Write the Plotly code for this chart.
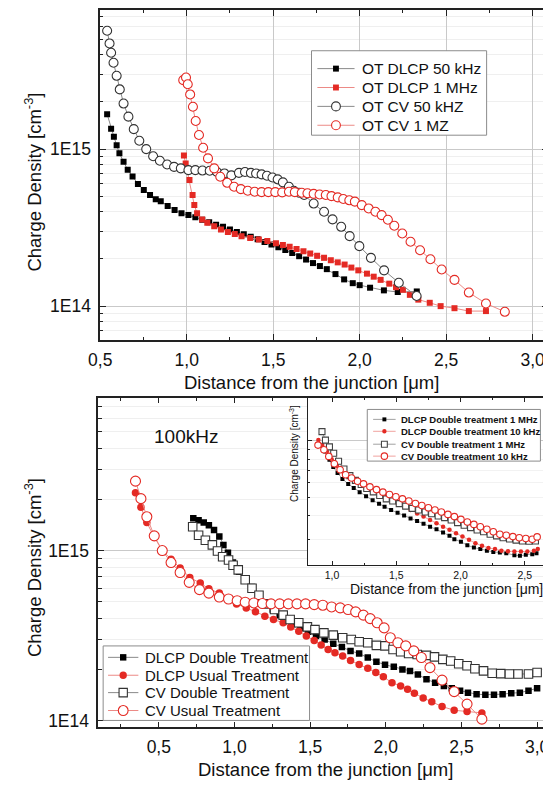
import plotly.graph_objects as go

FONT = "Liberation Sans, Arial, sans-serif"

# ---------------- Top panel data ----------------
top_dlcp50_x = [0.540, 0.563, 0.579, 0.595, 0.611, 0.635, 0.659, 0.687, 0.718, 0.752, 0.788, 0.821,
                0.85, 0.89, 0.93, 0.97, 1.01, 1.05, 1.09, 1.13, 1.17, 1.21, 1.25, 1.29, 1.33, 1.37,
                1.41, 1.45, 1.49, 1.53, 1.57, 1.61, 1.65, 1.69, 1.73, 1.77, 1.81, 1.86, 1.91, 1.96,
                2.00, 2.06, 2.14, 2.22, 2.33]
top_dlcp50_y = [1.67e15, 1.35e15, 1.20e15, 1.06e15, 9.4e14, 8.3e14, 7.4e14, 6.7e14, 6.0e14, 5.5e14, 5.1e14, 4.8e14,
                4.65e14, 4.35e14, 4.1e14, 3.9e14, 3.8e14, 3.68e14, 3.55e14, 3.42e14, 3.3e14, 3.2e14, 3.08e14, 2.97e14,
                2.87e14, 2.77e14, 2.67e14, 2.56e14, 2.47e14, 2.37e14, 2.28e14, 2.18e14, 2.08e14, 1.98e14, 1.88e14,
                1.8e14, 1.72e14, 1.6e14, 1.48e14, 1.4e14, 1.36e14, 1.31e14, 1.26e14, 1.23e14, 1.24e14]

top_dlcp1m_x = [0.984, 0.994, 1.016, 1.034, 1.044, 1.060, 1.089, 1.119, 1.159, 1.198, 1.238, 1.278, 1.317,
                1.367, 1.417, 1.466, 1.516, 1.556, 1.595, 1.635, 1.675, 1.714, 1.754, 1.794, 1.833, 1.873,
                1.913, 1.952, 1.992, 2.042, 2.081, 2.121, 2.171, 2.210, 2.250, 2.290, 2.339, 2.405, 2.468,
                2.548, 2.631, 2.730]
top_dlcp1m_y = [9.1e14, 8.1e14, 6.35e14, 5.1e14, 4.4e14, 3.9e14, 3.56e14, 3.4e14, 3.23e14, 3.08e14, 2.97e14,
                2.88e14, 2.79e14, 2.72e14, 2.66e14, 2.6e14, 2.51e14, 2.45e14, 2.39e14, 2.31e14, 2.24e14, 2.16e14,
                2.09e14, 2.03e14, 1.96e14, 1.90e14, 1.84e14, 1.76e14, 1.69e14, 1.61e14, 1.54e14, 1.47e14, 1.39e14,
                1.32e14, 1.27e14, 1.18e14, 1.10e14, 1.05e14, 1.0e14, 9.7e13, 9.3e13, 9.3e13]

top_cv50_x = [0.540, 0.554, 0.563, 0.577, 0.595, 0.613, 0.635, 0.663, 0.694, 0.726, 0.766, 0.806, 0.845,
              0.887, 0.927, 0.966, 1.010, 1.050, 1.091, 1.133, 1.175, 1.218, 1.258, 1.302, 1.337, 1.371,
              1.401, 1.433, 1.464, 1.496, 1.526, 1.556, 1.591, 1.619, 1.649, 1.679, 1.734, 1.794, 1.843,
              1.893, 1.942, 1.998, 2.065, 2.141, 2.226, 2.329]
top_cv50_y = [5.67e15, 4.71e15, 4.11e15, 3.55e15, 2.93e15, 2.40e15, 1.95e15, 1.61e15, 1.34e15, 1.13e15,
              1.0e15, 9.0e14, 8.43e14, 7.98e14, 7.71e14, 7.54e14, 7.35e14, 7.35e14, 7.3e14, 7.28e14, 7.15e14,
              7.0e14, 6.8e14, 7.06e14, 7.15e14, 7.06e14, 7.0e14, 6.9e14, 6.77e14, 6.6e14, 6.42e14, 6.14e14,
              5.76e14, 5.43e14, 5.27e14, 5.1e14, 4.5e14, 3.99e14, 3.57e14, 3.2e14, 2.79e14, 2.41e14, 2.03e14,
              1.69e14, 1.41e14, 1.16e14]

top_cv1m_x = [0.980, 0.996, 1.006, 1.020, 1.036, 1.052, 1.071, 1.095, 1.123, 1.159, 1.194, 1.234, 1.274,
              1.313, 1.353, 1.393, 1.433, 1.472, 1.512, 1.552, 1.591, 1.625, 1.665, 1.698, 1.734, 1.768,
              1.804, 1.837, 1.873, 1.905, 1.940, 1.972, 2.012, 2.052, 2.091, 2.127, 2.163, 2.200, 2.246,
              2.294, 2.349, 2.409, 2.474, 2.548, 2.631, 2.730, 2.839]
top_cv1m_y = [2.75e15, 2.86e15, 2.59e15, 2.23e15, 1.86e15, 1.51e15, 1.23e15, 1.02e15, 8.73e14, 7.54e14,
              6.67e14, 6.1e14, 5.76e14, 5.56e14, 5.43e14, 5.35e14, 5.32e14, 5.32e14, 5.32e14, 5.3e14, 5.35e14,
              5.32e14, 5.27e14, 5.23e14, 5.19e14, 5.14e14, 5.1e14, 5.02e14, 4.93e14, 4.81e14, 4.72e14, 4.63e14,
              4.4e14, 4.19e14, 3.99e14, 3.8e14, 3.55e14, 3.25e14, 2.9e14, 2.57e14, 2.27e14, 1.99e14, 1.71e14,
              1.47e14, 1.22e14, 1.04e14, 9.2e13]

top_names = ["OT DLCP 50 kHz", "OT DLCP 1 MHz", "OT CV 50 kHZ", "OT CV 1 MZ"]

# ---------------- Bottom panel data (100kHz) ----------------
bot_dlcp_double_x = [0.728, 0.763, 0.797, 0.831, 0.865, 0.900, 0.927, 0.957, 0.990, 1.030, 1.071, 1.116,
                     1.162, 1.208, 1.253, 1.299, 1.345, 1.390, 1.436, 1.486, 1.539, 1.596, 1.653, 1.710,
                     1.767, 1.824, 1.881, 1.938, 1.995, 2.053, 2.110, 2.160, 2.212, 2.269, 2.326, 2.384,
                     2.436, 2.491, 2.543, 2.600, 2.658, 2.715, 2.772, 2.829, 2.886, 2.943, 3.0]
bot_dlcp_double_y = [1.55e15, 1.51e15, 1.46e15, 1.41e15, 1.32e15, 1.21e15, 1.08e15, 9.7e14, 8.5e14, 7.5e14,
                     6.7e14, 6.1e14, 5.5e14, 4.86e14, 4.5e14, 4.17e14, 3.93e14, 3.7e14, 3.51e14, 3.33e14,
                     3.14e14, 3.0e14, 2.83e14, 2.71e14, 2.57e14, 2.48e14, 2.35e14, 2.22e14, 2.13e14, 2.07e14,
                     2.0e14, 1.96e14, 1.87e14, 1.75e14, 1.67e14, 1.6e14, 1.55e14, 1.5e14, 1.46e14, 1.43e14,
                     1.42e14, 1.42e14, 1.43e14, 1.45e14, 1.46e14, 1.5e14, 1.55e14]

bot_dlcp_usual_x = [0.346, 0.382, 0.421, 0.470, 0.523, 0.581, 0.641, 0.705, 0.774, 0.831, 0.900, 0.960,
                    1.014, 1.078, 1.139, 1.201, 1.258, 1.322, 1.372, 1.425, 1.475, 1.527, 1.573, 1.619,
                    1.664, 1.715, 1.767, 1.824, 1.881, 1.934, 1.984, 2.041, 2.098, 2.144, 2.189, 2.247,
                    2.304, 2.372, 2.452, 2.537, 2.635]
bot_dlcp_usual_y = [2.19e15, 1.8e15, 1.46e15, 1.2e15, 1.0e15, 8.9e14, 7.9e14, 6.95e14, 6.44e14, 5.96e14,
                    5.62e14, 5.2e14, 4.85e14, 4.6e14, 4.36e14, 4.11e14, 3.93e14, 3.76e14, 3.55e14, 3.35e14,
                    3.14e14, 2.96e14, 2.78e14, 2.62e14, 2.51e14, 2.4e14, 2.26e14, 2.14e14, 2.03e14, 1.92e14,
                    1.81e14, 1.67e14, 1.6e14, 1.53e14, 1.45e14, 1.36e14, 1.29e14, 1.21e14, 1.15e14, 1.13e14,
                    1.11e14]

bot_cv_double_x = [0.724, 0.763, 0.808, 0.854, 0.888, 0.922, 0.961, 0.991, 1.025, 1.071, 1.116, 1.162,
                   1.212, 1.265, 1.322, 1.368, 1.425, 1.482, 1.532, 1.591, 1.653, 1.715, 1.772, 1.824,
                   1.881, 1.938, 1.995, 2.048, 2.098, 2.151, 2.208, 2.269, 2.322, 2.377, 2.429, 2.482,
                   2.537, 2.589, 2.646, 2.703, 2.760, 2.817, 2.874, 2.943, 3.0]
bot_cv_double_y = [1.38e15, 1.23e15, 1.15e15, 1.08e15, 9.95e14, 9.2e14, 8.8e14, 8.2e14, 7.7e14, 6.73e14,
                   6.0e14, 5.46e14, 4.86e14, 4.5e14, 4.17e14, 3.93e14, 3.76e14, 3.56e14, 3.43e14, 3.28e14,
                   3.18e14, 3.07e14, 3.0e14, 2.91e14, 2.87e14, 2.77e14, 2.75e14, 2.62e14, 2.54e14, 2.48e14,
                   2.45e14, 2.42e14, 2.37e14, 2.29e14, 2.24e14, 2.16e14, 2.1e14, 2.02e14, 1.96e14, 1.9e14,
                   1.89e14, 1.88e14, 1.88e14, 1.88e14, 1.92e14]

bot_cv_usual_x = [0.346, 0.382, 0.421, 0.470, 0.523, 0.581, 0.641, 0.701, 0.769, 0.831, 0.900, 0.961,
                  1.018, 1.071, 1.128, 1.185, 1.242, 1.299, 1.356, 1.413, 1.470, 1.527, 1.584, 1.642,
                  1.699, 1.751, 1.801, 1.852, 1.897, 1.943, 1.989, 2.030, 2.080, 2.132, 2.185, 2.235,
                  2.292, 2.372, 2.452, 2.537, 2.635]
bot_cv_usual_y = [2.56e15, 2.02e15, 1.58e15, 1.22e15, 1.0e15, 8.5e14, 7.43e14, 6.5e14, 5.89e14, 5.62e14,
                  5.33e14, 5.19e14, 5.07e14, 4.97e14, 4.92e14, 4.88e14, 4.86e14, 4.86e14, 4.86e14, 4.86e14,
                  4.86e14, 4.81e14, 4.77e14, 4.66e14, 4.6e14, 4.5e14, 4.36e14, 4.17e14, 3.98e14, 3.76e14,
                  3.51e14, 3.07e14, 2.87e14, 2.75e14, 2.57e14, 2.35e14, 2.05e14, 1.73e14, 1.48e14, 1.25e14,
                  1.02e14]

bot_names = ["DLCP Double Treatment", "DLCP Usual Treatment", "CV Double Treatment", "CV Usual Treatment"]

# ---------------- Inset data ----------------
ins_dlcp1m_x = [0.947, 0.980, 1.010, 1.043, 1.081, 1.126, 1.169, 1.215, 1.265, 1.316, 1.366, 1.409, 1.460,
                1.510, 1.561, 1.611, 1.662, 1.712, 1.763, 1.813, 1.864, 1.914, 1.952, 2.003, 2.053, 2.104,
                2.154, 2.205, 2.255, 2.306, 2.356, 2.419, 2.462, 2.508, 2.558, 2.591]
ins_dlcp1m_y = [8.8e14, 7.94e14, 7.27e14, 6.76e14, 6.29e14, 5.91e14, 5.63e14, 5.35e14, 5.09e14, 4.85e14,
                4.64e14, 4.48e14, 4.3e14, 4.16e14, 4.03e14, 3.88e14, 3.76e14, 3.64e14, 3.51e14, 3.4e14,
                3.27e14, 3.14e14, 3.01e14, 2.92e14, 2.8e14, 2.72e14, 2.67e14, 2.62e14, 2.58e14, 2.56e14,
                2.54e14, 2.48e14, 2.46e14, 2.49e14, 2.51e14, 2.54e14]

ins_dlcp10k_x = [0.894, 0.924, 0.960, 0.997, 1.038, 1.081, 1.124, 1.169, 1.215, 1.265, 1.316, 1.366, 1.417,
                 1.460, 1.510, 1.561, 1.611, 1.662, 1.712, 1.763, 1.813, 1.864, 1.914, 1.965, 2.015, 2.066,
                 2.116, 2.167, 2.217, 2.268, 2.318, 2.369, 2.419, 2.470, 2.520, 2.571, 2.601]
ins_dlcp10k_y = [1.01e15, 9.5e14, 8.8e14, 8.0e14, 7.38e14, 6.9e14, 6.5e14, 6.18e14, 5.94e14, 5.68e14,
                 5.46e14, 5.26e14, 5.06e14, 4.86e14, 4.66e14, 4.48e14, 4.3e14, 4.13e14, 3.97e14, 3.81e14,
                 3.66e14, 3.51e14, 3.38e14, 3.24e14, 3.11e14, 2.99e14, 2.87e14, 2.78e14, 2.71e14, 2.67e14,
                 2.62e14, 2.6e14, 2.59e14, 2.59e14, 2.59e14, 2.62e14, 2.67e14]

ins_cv1m_x = [0.922, 0.949, 0.980, 1.013, 1.051, 1.093, 1.139, 1.182, 1.227, 1.270, 1.321, 1.371, 1.422,
              1.472, 1.523, 1.573, 1.624, 1.674, 1.725, 1.775, 1.826, 1.876, 1.927, 1.977, 2.028, 2.078,
              2.129, 2.179, 2.230, 2.280, 2.331, 2.381, 2.432, 2.482, 2.533, 2.583]
ins_cv1m_y = [1.12e15, 1.01e15, 9.3e14, 8.6e14, 7.8e14, 7.1e14, 6.55e14, 6.18e14, 5.87e14, 5.59e14, 5.37e14,
              5.14e14, 4.93e14, 4.8e14, 4.65e14, 4.51e14, 4.39e14, 4.3e14, 4.2e14, 4.11e14, 4.0e14, 3.92e14,
              3.81e14, 3.69e14, 3.57e14, 3.47e14, 3.37e14, 3.3e14, 3.2e14, 3.14e14, 3.07e14, 3.02e14, 2.98e14,
              2.95e14, 2.94e14, 2.95e14]

ins_cv10k_x = [0.891, 0.937, 0.975, 1.018, 1.063, 1.106, 1.152, 1.199, 1.245, 1.295, 1.346, 1.396, 1.447,
               1.497, 1.548, 1.598, 1.649, 1.699, 1.750, 1.801, 1.851, 1.902, 1.952, 2.003, 2.053, 2.104,
               2.154, 2.205, 2.255, 2.306, 2.356, 2.407, 2.457, 2.508, 2.558, 2.596]
ins_cv10k_y = [9.5e14, 8.97e14, 8.28e14, 7.57e14, 7.04e14, 6.62e14, 6.36e14, 6.11e14, 5.92e14, 5.71e14,
               5.52e14, 5.35e14, 5.2e14, 5.06e14, 4.93e14, 4.8e14, 4.66e14, 4.55e14, 4.42e14, 4.3e14, 4.2e14,
               4.08e14, 3.97e14, 3.84e14, 3.72e14, 3.61e14, 3.51e14, 3.4e14, 3.3e14, 3.2e14, 3.16e14, 3.11e14,
               3.07e14, 3.04e14, 3.01e14, 3.1e14]

ins_names = ["DLCP Double treatment 1 MHz", "DLCP Double treatment 10 kHz",
             "CV Double treatment 1 MHz", "CV Double treatment 10 kHz"]

# ---------------- Tick labels ----------------
main_xtick_vals = [0.5, 1.0, 1.5, 2.0, 2.5, 3.0]
main_xtick_text = ["0,5", "1,0", "1,5", "2,0", "2,5", "3,0"]
ins_xtick_vals = [1.0, 1.5, 2.0, 2.5]
ins_xtick_text = ["1,0", "1,5", "2,0", "2,5"]
ytick_vals = [1e14, 1e15]
ytick_text = ["1E14", "1E15"]

BLACK = "#000000"
DARK = "#333333"
GRAYLINE = "#8a8a8a"
RED = "#e42a24"
REDLINE = "#ec8a86"

W, H = 551, 785
OFF = 8  # page body margin of the html page


def px(x):
    return (x - OFF) / W


def py(y):
    return min(1.0, 1 - (y - OFF) / H)


fig = go.Figure()

# (symbol, marker colour, line colour, size, open)
top_styles = [("square", BLACK, GRAYLINE, 6, False), ("square", RED, REDLINE, 6, False),
              ("circle", DARK, GRAYLINE, 9, True), ("circle", RED, REDLINE, 9, True)]
bot_styles = [("square", BLACK, GRAYLINE, 6.5, False), ("circle", RED, REDLINE, 7.5, False),
              ("square", DARK, GRAYLINE, 8.5, True), ("circle", RED, REDLINE, 10, True)]
ins_styles = [("square", BLACK, GRAYLINE, 4, False), ("circle", RED, REDLINE, 4.5, False),
              ("square", "#444444", GRAYLINE, 6, True), ("circle", RED, REDLINE, 6.5, True)]


def add(x, y, name, xa, ya, style, lw=1.0):
    symbol, color, lcolor, size, open_ = style
    if open_:
        marker = dict(symbol=symbol, size=size, color="white", line=dict(color=color, width=1.1))
    else:
        marker = dict(symbol=symbol, size=size, color=color, line=dict(width=0))
    fig.add_trace(go.Scatter(x=x, y=y, name=name, mode="lines+markers", xaxis=xa, yaxis=ya,
                             showlegend=False, marker=marker, line=dict(color=lcolor, width=lw)))


top_series = [(top_dlcp50_x, top_dlcp50_y), (top_dlcp1m_x, top_dlcp1m_y),
              (top_cv50_x, top_cv50_y), (top_cv1m_x, top_cv1m_y)]
bot_series = [(bot_dlcp_double_x, bot_dlcp_double_y), (bot_dlcp_usual_x, bot_dlcp_usual_y),
              (bot_cv_double_x, bot_cv_double_y), (bot_cv_usual_x, bot_cv_usual_y)]
ins_series = [(ins_dlcp1m_x, ins_dlcp1m_y), (ins_dlcp10k_x, ins_dlcp10k_y),
              (ins_cv1m_x, ins_cv1m_y), (ins_cv10k_x, ins_cv10k_y)]

for (x, y), n, s in zip(top_series, top_names, top_styles):
    add(x, y, n, "x", "y", s)
for (x, y), n, s in zip(bot_series, bot_names, bot_styles):
    add(x, y, n, "x2", "y2", s)
for (x, y), n, s in zip(ins_series, ins_names, ins_styles):
    add(x, y, n, "x3", "y3", s, lw=0.8)

axis_common = dict(showline=True, linecolor="#222222", linewidth=1.5, mirror="allticks",
                   ticks="inside", tickcolor="#222222", tickwidth=1.2, zeroline=False,
                   tickfont=dict(family=FONT, size=17.5, color="#111111"))

main_x = dict(axis_common, tickmode="array", tickvals=main_xtick_vals, ticktext=main_xtick_text,
              ticklen=6, ticklabelstandoff=3,
              minor=dict(ticks="inside", ticklen=3.5, dtick=0.25, tick0=0, tickcolor="#222222"))
main_y = dict(axis_common, type="log", tickmode="array", tickvals=ytick_vals, ticktext=ytick_text,
              ticklen=6, ticklabelstandoff=4, showgrid=True, gridcolor="#c9c9c9", gridwidth=1,
              minor=dict(ticks="inside", ticklen=3.5, dtick="D1", tickcolor="#222222",
                         showgrid=True, gridcolor="#efefef", gridwidth=1))

fig.update_layout(
    width=W, height=H, margin=dict(l=0, r=0, t=0, b=0),
    paper_bgcolor="white", plot_bgcolor="white",
    font=dict(family=FONT, color="#111111"),
    showlegend=False,
    xaxis=dict(main_x, domain=[px(90), px(548)], anchor="y", range=[0.5, 3.09],
               showgrid=True, gridcolor="#c9c9c9", gridwidth=1),
    yaxis=dict(main_y, domain=[py(340), 1.0], anchor="x", range=[13.785, 15.886]),
    xaxis2=dict(main_x, domain=[px(88), px(549)], anchor="y2", range=[0.1, 3.08], showgrid=False),
    yaxis2=dict(main_y, domain=[py(730), py(398)], anchor="x2", range=[13.96, 15.90]),
    xaxis3=dict(axis_common, domain=[px(302), px(549)], anchor="y3", range=[0.81, 2.69],
                tickmode="array", tickvals=ins_xtick_vals, ticktext=ins_xtick_text, ticklen=4,
                tickfont=dict(family=FONT, size=10.5, color="#111111"), showgrid=False,
                linewidth=1.3,
                minor=dict(ticks="inside", ticklen=2.5, dtick=0.25, tick0=0, tickcolor="#222222")),
    yaxis3=dict(axis_common, type="log", domain=[py(567), py(398)], anchor="x3", range=[14.34, 15.23],
                tickmode="array", tickvals=[1e15], showticklabels=False, ticklen=4,
                showgrid=True, gridcolor="#c9c9c9", linewidth=1.3,
                minor=dict(ticks="inside", ticklen=2.5, dtick="D1", tickcolor="#222222",
                           showgrid=True, gridcolor="#f2f2f2")),
)


def legend_block(box, rows, line_x, text_x, fsize, bold, names, styles, lw=1.0):
    x0, x1, y0, y1 = box
    fig.add_shape(type="rect", xref="paper", yref="paper", x0=px(x0), x1=px(x1), y0=py(y1), y1=py(y0),
                  fillcolor="white", line=dict(color="#8c8c8c", width=1), layer="above")
    cx = (line_x[0] + line_x[1]) / 2
    for name, (symbol, color, lcolor, size, open_), ry in zip(names, styles, rows):
        fig.add_shape(type="line", xref="paper", yref="paper", x0=px(line_x[0]), x1=px(line_x[1]),
                      y0=py(ry), y1=py(ry), line=dict(color=lcolor, width=lw), layer="above")
        h = size / 2
        fig.add_shape(type="rect" if symbol == "square" else "circle", xref="paper", yref="paper",
                      x0=px(cx - h), x1=px(cx + h), y0=py(ry + h), y1=py(ry - h),
                      fillcolor="white" if open_ else color,
                      line=dict(color=color, width=1.1 if open_ else 0), layer="above")
        fig.add_annotation(text=name, x=px(text_x), y=py(ry), xref="paper", yref="paper",
                           xanchor="left", yanchor="middle", showarrow=False,
                           font=dict(family=FONT, size=fsize, color="#111111",
                                     weight="bold" if bold else "normal"))


legend_block((306, 485, 49, 134), [67, 86, 105, 124], (312, 350), 356, 15.5, False, top_names, top_styles)
legend_block((93, 304, 648, 723), [659.5, 677.5, 695, 713], (98, 129), 134, 15, False, bot_names, bot_styles)
legend_block((363, 540, 410, 462), [420, 432, 445, 457], (369, 392), 395, 9.5, True, ins_names, ins_styles, 0.8)

ann = [
    dict(text="Distance from the junction [\u03bcm]", x=px(306), y=py(383), size=18.5, angle=0),
    dict(text="Distance from the junction [\u03bcm]", x=px(320), y=py(772.5), size=18.5, angle=0),
    dict(text="Charge Density [cm<sup>-3</sup>]", x=px(21), y=py(181), size=18.5, angle=-90),
    dict(text="Charge Density [cm<sup>-3</sup>]", x=px(22), y=py(569), size=18.5, angle=-90),
    dict(text="100kHz", x=px(178), y=py(437), size=19, angle=0),
    dict(text="Charge Density [cm<sup>-3</sup>]", x=px(288), y=py(454), size=10, angle=-90),
    dict(text="Distance from the junction [\u03bcm]", x=px(444), y=py(591), size=14, angle=0),
]
for a in ann:
    fig.add_annotation(text=a["text"], x=a["x"], y=a["y"], xref="paper", yref="paper",
                       xanchor="center", yanchor="middle", showarrow=False, textangle=a["angle"],
                       font=dict(family=FONT, size=a["size"], color="#111111"))

fig.write_html("out.html")
